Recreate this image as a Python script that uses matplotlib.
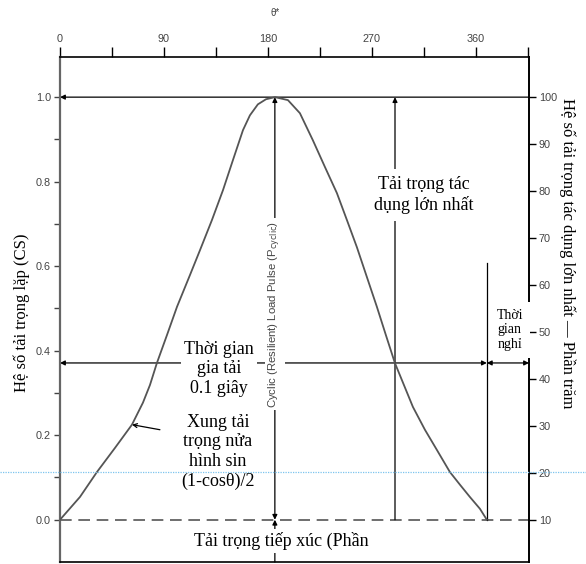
import matplotlib
matplotlib.use('Agg')
import matplotlib.pyplot as plt
from matplotlib.lines import Line2D

# ── data ────────────────────────────────────────────────────────────────
# half-sine load pulse, theta in degrees, load coefficient (CS)
theta = [0, 17.3, 32.0, 47.6, 62.3, 71.8, 77.9, 83.9, 92.6, 101.3,
         112.5, 121.2, 131.5, 141.1, 149.7, 158.4, 164.4, 171.3, 178.3, 186.1,
         197.3, 207.7, 218.9, 229.3, 239.7, 248.4, 257.0, 265.7, 274.3, 282.1,
         289.9, 297.7, 305.5, 315.9, 326.3, 337.5, 346.2, 354.8, 363.5, 369.5]
load = [0, 0.054, 0.113, 0.170, 0.225, 0.277, 0.319, 0.371, 0.437, 0.504,
        0.579, 0.638, 0.709, 0.780, 0.851, 0.922, 0.957, 0.983, 0.995, 1.0,
        0.993, 0.962, 0.898, 0.835, 0.773, 0.709, 0.645, 0.574, 0.504, 0.437,
        0.371, 0.319, 0.267, 0.213, 0.165, 0.113, 0.083, 0.054, 0.026, 0.0]

x_major = [0, 90, 180, 270, 360]
x_minor = [45, 135, 225, 315, 405]
y_major = [0.0, 0.2, 0.4, 0.6, 0.8, 1.0]
y_minor = [0.1, 0.3, 0.5, 0.7, 0.9]
pct_ticks = [10, 20, 30, 40, 50, 60, 70, 80, 90, 100]

peak_theta = 186       # centre of the pulse
end_theta = 369.5      # end of the pulse
max_theta = 290        # "max load" marker
time_level = 0.371     # level of the time dimension lines
rest_top = 0.608
x_end = 406

SERIF = ['Liberation Serif', 'DejaVu Serif']
SANS = ['Liberation Sans', 'DejaVu Sans']
plt.rcParams['font.family'] = SANS

fig = plt.figure(figsize=(5.86, 5.64), dpi=100)
ax = fig.add_axes([60/586, 1 - 562/564, 469/586, 505/564])
ax2 = ax.twinx()

ax.set_xlim(0, x_end)
ax.set_ylim(-0.1, 1.095)
ax2.set_ylim(10 + 90*-0.1, 10 + 90*1.095)

# ── spines / ticks ─────────────────────────────────────────────────────
ax.spines['right'].set_visible(False)
ax.spines['left'].set_color('#666')
ax.spines['left'].set_linewidth(1.6)
ax.spines['top'].set_linewidth(1.2)
ax.spines['bottom'].set_linewidth(1.2)
for s in ['left', 'top', 'bottom']:
    ax2.spines[s].set_visible(False)
ax2.spines['right'].set_linewidth(1.4)

ax.xaxis.tick_top()
ax.set_xticks(x_major)
ax.set_xticks(x_minor, minor=True)
ax.set_xticklabels([str(v) for v in x_major])
ax.tick_params(axis='x', which='both', direction='out', length=7, width=1,
               labelsize=7.8, labelcolor='#444', pad=2)

ax.set_yticks(y_major)
ax.set_yticks(y_minor, minor=True)
ax.set_yticklabels([f'{v:.1f}' for v in y_major])
ax.tick_params(axis='y', which='both', direction='out', length=4.5, width=1,
               color='#444', labelsize=7.8, labelcolor='#444', pad=2)

ax2.set_yticks(pct_ticks)
ax2.set_yticklabels([str(v) for v in pct_ticks])
ax2.tick_params(axis='y', direction='out', length=5, width=1,
                labelsize=7.8, labelcolor='#444', pad=2)

# ── curve and reference lines ──────────────────────────────────────────
ax.plot(theta, load, color='#555', lw=1.3, zorder=3)
ax.plot([0, x_end], [0, 0], color='#555', lw=1.2, dashes=(7, 4), zorder=2)

def arrow(p0, p1, style='-|>'):
    ax.annotate('', xy=p1, xytext=p0, zorder=2, annotation_clip=False,
                arrowprops=dict(arrowstyle=style, color='black', lw=0.9,
                                mutation_scale=7, shrinkA=0, shrinkB=0))

arrow((x_end, 1.0), (0, 1.0))
arrow((0, time_level), (end_theta, time_level), '<|-|>')
arrow((end_theta, time_level), (x_end, time_level), '<|-|>')
arrow((peak_theta, 0), (peak_theta, 1.0), '<|-|>')
arrow((peak_theta, -0.1), (peak_theta, 0))
arrow((max_theta, 0), (max_theta, 1.0))
ax.plot([end_theta, end_theta], [0, rest_top], color='black', lw=0.9, zorder=2)

# pointer from label to curve
arrow((86.5, 0.213), (62.3, 0.225), '->')

# ── texts ──────────────────────────────────────────────────────────────
box = dict(facecolor='white', edgecolor='none', pad=2)
ax.text(137.6, 0.357, 'Thời gian\ngia tải\n0.1 giây', ha='center', va='center',
        fontsize=13, family=SERIF, linespacing=1.2, bbox=box, zorder=5)
ax.text(136.7, 0.161, 'Xung tải\ntrọng nửa\nhình sin\n(1-cosθ)/2',
        ha='center', va='center', fontsize=13, family=SERIF,
        linespacing=1.2, zorder=5)
ax.text(315, 0.768, 'Tải trọng tác\ndụng lớn nhất', ha='center', va='center',
        fontsize=13, family=SERIF, linespacing=1.2,
        bbox=dict(facecolor='white', edgecolor='none', pad=5), zorder=5)
ax.text(191.3, -0.05, 'Tải trọng tiếp xúc (Phần', ha='center', va='center',
        fontsize=13, family=SERIF, bbox=box, zorder=5)
ax.text(peak_theta, 0.487, r'Cyclic (Resilient) Load Pulse (P$_{\rm cyclic}$)',
        rotation=90, ha='center', va='center', fontsize=8.2, color='#444',
        bbox=dict(facecolor='white', edgecolor='none', pad=1.5), zorder=5)
ax2.text(389.4, 0.449, 'Thời\ngian\nnghỉ', transform=ax.transData,
         ha='center', va='center', fontsize=10, family=SERIF,
         linespacing=1.15, clip_on=False,
         bbox=dict(facecolor='white', edgecolor='none', pad=5), zorder=5)

fig.text(22/586, 1 - 313/564, 'Hệ số tải trọng lặp (CS)', rotation=90,
         ha='center', va='center', fontsize=12, family=SERIF)
fig.text(567/586, 1 - 253/564, 'Hệ số tải trọng tác dụng lớn nhất — Phần trăm',
         rotation=-90, ha='center', va='center', fontsize=12, family=SERIF)
fig.text(275/586, 1 - 13/564, 'θ*', ha='center', va='center', fontsize=7,
         color='#444')

# thin blue guide line running across the page
fig.add_artist(Line2D([0, 1], [1 - 472/564, 1 - 472/564], transform=fig.transFigure,
                      color='#7cc4ee', lw=0.9, ls=(0, (1, 1)), zorder=10))

fig.savefig('out.png', dpi=100)
